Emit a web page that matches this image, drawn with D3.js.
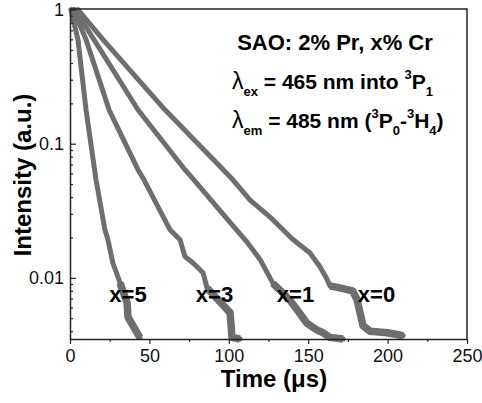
<!DOCTYPE html>
<html>
<head>
<meta charset="utf-8">
<script src="https://cdn.jsdelivr.net/npm/d3@7"></script>
<style>
  body { margin: 0; background: #fff; }
  text { font-family: "Liberation Sans", Arial, sans-serif; }
</style>
</head>
<body>
<script>
// decay curves (time in us, intensity a.u.)
var t0 = [5, 20.8, 59.8, 102.6, 113.4, 126, 140, 151, 157.4, 161.8, 163.7, 166, 172, 178, 180.7, 182.6, 184.5, 189, 200, 209.8];
var i0 = [1, 0.597, 0.179, 0.0538, 0.038, 0.0284, 0.0195, 0.0154, 0.0121, 0.0098, 0.0087, 0.0086, 0.0083, 0.0080, 0.0069, 0.0055, 0.0044, 0.0040, 0.0039, 0.0037];

var t1 = [3, 15.1, 42.8, 72.4, 78, 100.8, 111, 120, 127.8, 134.1, 138.5, 142.9, 149.1, 155.4, 159.2, 163.6, 172];
var i1 = [1, 0.597, 0.179, 0.064, 0.0538, 0.0259, 0.0188, 0.0135, 0.0091, 0.0077, 0.0068, 0.0058, 0.0046, 0.0041, 0.0039, 0.0036, 0.0035];

var t3 = [2, 10.1, 24.6, 42.8, 46.6, 63, 69.3, 72.4, 77.5, 83.8, 86.3, 94.5, 100.8, 102, 107];
var i3 = [1, 0.597, 0.179, 0.064, 0.0538, 0.0228, 0.0192, 0.0144, 0.0129, 0.0109, 0.0084, 0.0066, 0.0055, 0.0036, 0.0035];

var t5 = [0.6, 5, 10.1, 16.4, 22, 23.9, 27, 31.5, 36, 36.5, 42.2, 44];
var i5 = [1, 0.597, 0.179, 0.0538, 0.0228, 0.0192, 0.0129, 0.0092, 0.0065, 0.0051, 0.0039, 0.0036];

var curveNames = ["x=5", "x=3", "x=1", "x=0"];
var labelT = [36.5, 91, 142, 193];
var labelI = 0.0066;

var xTicks = [0, 50, 100, 150, 200, 250];
var xMinor = [25, 75, 125, 175, 225];
var yTicks = [1, 0.1, 0.01];
var yTickLabels = ["1", "0.1", "0.01"];
var yMinor = [0.004, 0.005, 0.006, 0.007, 0.008, 0.009,
              0.02, 0.03, 0.04, 0.05, 0.06, 0.07, 0.08, 0.09,
              0.2, 0.3, 0.4, 0.5, 0.6, 0.7, 0.8, 0.9];

var W = 482, H = 403;
var pL = 70, pR = 467, pT = 9, pB = 339;

var svg = d3.select("body").append("svg")
    .attr("width", W)
    .attr("height", H);

var x = d3.scaleLinear().domain([0, 250]).range([pL, pR]);
var y = d3.scaleLog().domain([0.0035, 1.01]).range([pB, pT]);

// curves
var series = [[t5, i5], [t3, i3], [t1, i1], [t0, i0]];
var line = d3.line()
    .x(function(d){ return x(d[0]); })
    .y(function(d){ return y(d[1]); });

var lineColor = "#6e6e6e";

svg.append("g").selectAll("path")
    .data(series)
    .enter().append("path")
    .attr("d", function(s){ return line(d3.zip(s[0], s[1])); })
    .attr("fill", "none")
    .attr("stroke", lineColor)
    .attr("stroke-width", 5)
    .attr("stroke-linejoin", "round")
    .attr("stroke-linecap", "round");

// noisy tails look wider
svg.append("g").selectAll("path")
    .data(series)
    .enter().append("path")
    .attr("d", function(s){
      return line(d3.zip(s[0], s[1]).filter(function(d){ return d[1] < 0.0095; }));
    })
    .attr("fill", "none")
    .attr("stroke", lineColor)
    .attr("stroke-width", 7.5)
    .attr("stroke-linejoin", "round");

// frame
svg.append("path")
    .attr("d", "M" + pL + "," + pT + "H" + pR + "V" + pB)
    .attr("fill", "none")
    .attr("stroke", "#222")
    .attr("stroke-width", 1.5);

// x axis
svg.append("g")
    .attr("transform", "translate(0," + pB + ")")
    .call(d3.axisBottom(x).tickValues(xTicks).tickSize(5).tickSizeOuter(0).tickPadding(5));
svg.append("g")
    .attr("transform", "translate(0," + pB + ")")
    .call(d3.axisBottom(x).tickValues(xMinor).tickSize(3).tickFormat(""))
    .select(".domain").remove();

// y axis, ticks inward
svg.append("g")
    .attr("transform", "translate(" + pL + ",0)")
    .call(d3.axisLeft(y).tickValues(yTicks).tickSize(-6).tickSizeOuter(0).tickPadding(6)
        .tickFormat(function(d, i){ return yTickLabels[i]; }));
svg.append("g")
    .attr("transform", "translate(" + pL + ",0)")
    .call(d3.axisLeft(y).tickValues(yMinor).tickSize(-3).tickFormat(""))
    .select(".domain").remove();

svg.selectAll(".domain").attr("stroke", "#222").attr("stroke-width", 1.5);
svg.selectAll(".tick line").attr("stroke", "#222").attr("stroke-width", 1.2);
svg.selectAll(".tick text")
    .style("font-family", "'Liberation Sans', Arial, sans-serif")
    .style("font-size", "18px")
    .attr("fill", "#111");

// axis titles
svg.append("text")
    .attr("x", 274)
    .attr("y", 387)
    .attr("text-anchor", "middle")
    .style("font-size", "24px")
    .style("font-weight", "bold")
    .text("Time (\u03bcs)");

svg.append("text")
    .attr("transform", "translate(31,175) rotate(-90)")
    .attr("text-anchor", "middle")
    .style("font-size", "24px")
    .style("font-weight", "bold")
    .text("Intensity (a.u.)");

// curve labels
svg.append("g").selectAll("text")
    .data(curveNames)
    .enter().append("text")
    .attr("x", function(d, i){ return x(labelT[i]); })
    .attr("y", y(labelI))
    .attr("text-anchor", "middle")
    .style("font-size", "22px")
    .style("font-weight", "bold")
    .text(function(d){ return d; });

// annotation
svg.append("text")
    .attr("x", 335)
    .attr("y", 50)
    .attr("text-anchor", "middle")
    .style("font-size", "22px")
    .style("font-weight", "bold")
    .text("SAO: 2% Pr, x% Cr");

function richLine(yy, parts) {
  var t = svg.append("text")
      .attr("x", 232)
      .attr("y", yy)
      .style("font-size", "21px")
      .style("font-weight", "bold");
  parts.forEach(function(p){
    var s = t.append("tspan").text(p[0]);
    if (p[1] == "sub") s.attr("dy", 7).style("font-size", "13px");
    if (p[1] == "sup") s.attr("dy", -10).style("font-size", "13px");
    if (p[1] == "up") s.attr("dy", -7);
    if (p[1] == "down") s.attr("dy", 10);
    if (p[2] == "normal") s.style("font-weight", "normal").style("font-size", "23px");
  });
}

richLine(89, [["\u03bb", "", "normal"], ["ex", "sub"], [" = 465 nm into ", "up"], ["3", "sup"], ["P", "down"], ["1", "sub"]]);
richLine(128, [["\u03bb", "", "normal"], ["em", "sub"], [" = 485 nm (", "up"], ["3", "sup"], ["P", "down"], ["0", "sub"], ["-", "up"], ["3", "sup"], ["H", "down"], ["4", "sub"], [")", "up"]]);
</script>
</body>
</html>
